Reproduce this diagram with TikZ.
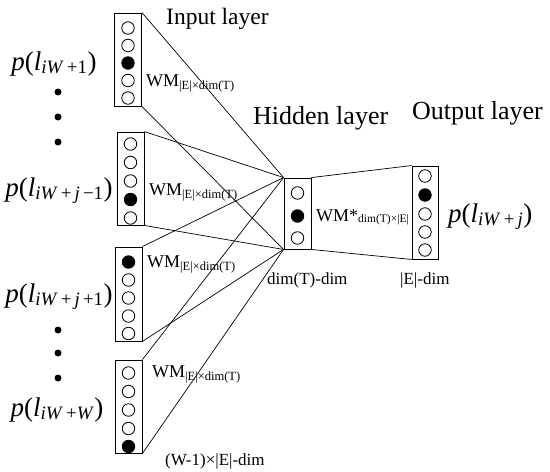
\documentclass[tikz,border=0pt]{standalone}
\usepackage{fontspec}
\setmainfont{Liberation Serif}
\usetikzlibrary{positioning}
\newcommand{\wmlab}[2]{{\fontsize{18}{20}\selectfont WM#1}{\fontsize{12.5}{14}\selectfont\raisebox{-3pt}{#2}}}
\newcommand{\plab}[1]{\textit{p}(\textit{l}\textsubscript{#1})}

\begin{document}
\begin{tikzpicture}[
  x=1pt, y=-1pt,
  box/.style={draw, line width=0.9pt, minimum width=27pt, inner sep=0pt},
  unit/.style={draw, circle, line width=0.8pt, minimum size=12.5pt, inner sep=0pt},
  fired/.style={unit, fill=black},
  link/.style={line width=0.7pt},
  layerlab/.style={font=\fontsize{26}{30}\selectfont, anchor=base west, inner sep=0pt},
  dimlab/.style={font=\fontsize{17}{20}\selectfont, anchor=base west, inner sep=0pt},
  wm/.style={anchor=base west, inner sep=0pt},
  plabel/.style={font=\fontsize{27}{30}\selectfont, anchor=base, inner sep=0pt},
  vdot/.style={circle, fill=black, minimum size=7pt, inner sep=0pt},
]
\useasboundingbox (0,0) rectangle (550,472);

% Input layer boxes
\node[box, minimum height=93pt] (in1) at (128,59.5) {};
\node[box, minimum height=93pt] (in2) at (130.5,178.5) {};
\node[box, minimum height=94pt] (in3) at (128.5,294) {};
\node[box, minimum height=93pt] (in4) at (128.5,406.5) {};

% units of the input boxes
\foreach \y/\s [count=\k] in {28/unit,45.5/unit,63/fired,80.5/unit,98/unit}
  \node[\s] (in1-\k) at (128,\y) {};
\foreach \y/\s [count=\k] in {144/unit,162.5/unit,181/unit,199.5/fired,218/unit}
  \node[\s] (in2-\k) at (130.5,\y) {};
\foreach \y/\s [count=\k] in {262/fired,280/unit,298/unit,316/unit,333.5/unit}
  \node[\s] (in3-\k) at (128.5,\y) {};
\foreach \y/\s [count=\k] in {373/unit,391.5/unit,410/unit,428.5/unit,446.5/fired}
  \node[\s] (in4-\k) at (128.5,\y) {};

% Hidden and output boxes
\node[box, minimum height=71pt] (hid) at (297.5,213.5) {};
\foreach \y/\s [count=\k] in {193/unit,216/fired,238/unit}
  \node[\s] (hid-\k) at (297.5,\y) {};
\node[box, minimum width=26pt, minimum height=93pt] (out) at (425,212.5) {};
\foreach \y/\s [count=\k] in {176/unit,195/fired,214/unit,232/unit,250/unit}
  \node[\s] (out-\k) at (425,\y) {};

% input -> hidden
\foreach \b in {in1,in2,in3,in4} {
  \draw[link] (\b.north east) -- (hid.north west);
  \draw[link] (\b.south east) -- (hid.south west);
}
% hidden -> output
\draw[link] (hid.north east) -- (out.north west);
\draw[link] (hid.south east) -- (out.south west);

% Weight labels
\node[wm] (wm1) at (146,86) {\wmlab{}{|E|×dim(T)}};
\node[wm] (wm2) at (149,195) {\wmlab{}{|E|×dim(T)}};
\node[wm] (wm3) at (147,267) {\wmlab{}{|E|×dim(T)}};
\node[wm] (wm4) at (152,377) {\wmlab{}{|E|×dim(T)}};
\node[wm] (wmh) at (316,221) {{\fontsize{18}{20}\selectfont WM*}{\fontsize{11.5}{13}\selectfont\raisebox{-1.5pt}{dim(T)×|E|}}};

% Layer titles
\node[layerlab, font=\fontsize{23.5}{26}\selectfont] (tin) at (166,24) {Input layer};
\node[layerlab] (thid) at (253,124) {Hidden layer};
\node[layerlab] (tout) at (412,119) {Output layer};

% Dimensions
\node[dimlab] (dhid) at (267,284) {dim(T)-dim};
\node[dimlab] (dout) at (400,284) {|E|-dim};
\node[dimlab] (din) at (165,465) {(W-1)×|E|-dim};

% Word labels
\node[plabel] (p1) at (54,70) {\plab{\textit{iW}\,+1}};
\node[vdot] (d1) at (58,92) {};
\node[vdot] (d2) at (58,117) {};
\node[vdot] (d3) at (58,142) {};
\node[plabel] (p2) at (59,196) {\plab{\textit{iW}\,+\,\textit{j}\,−1}};
\node[plabel] (p3) at (59,302) {\plab{\textit{iW}\,+\,\textit{j}\,+1}};
\node[vdot] (d4) at (58,330) {};
\node[vdot] (d5) at (58,353) {};
\node[vdot] (d6) at (58,378) {};
\node[plabel] (p4) at (57,416) {\plab{\textit{iW}\,+\textit{W}}};
\node[plabel, anchor=base west] (pout) at (448,222) {\plab{\textit{iW}\,+\,\textit{j}}};

\end{tikzpicture}
\end{document}
